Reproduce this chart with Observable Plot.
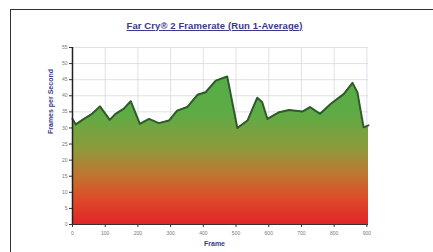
<!DOCTYPE html>
<html>
<head>
<meta charset="utf-8">
<script src="https://cdn.jsdelivr.net/npm/d3@7"></script>
<script src="https://cdn.jsdelivr.net/npm/@observablehq/plot@0.6"></script>
<style>
  html, body { margin: 0; padding: 0; background: #fff; }
  #wrap { position: relative; width: 433px; height: 252px; overflow: hidden; font-family: "Liberation Sans", Arial, sans-serif; }
  #frame { position: absolute; left: 10px; top: 9px; width: 440px; height: 260px; border: 1px solid #333; box-sizing: border-box; }
  #title { position: absolute; left: 0; width: 429px; top: 20px; text-align: center; font-size: 9.5px; font-weight: bold; color: #3a3a8c; text-decoration: underline; letter-spacing: 0.1px; }
  #chart { position: absolute; left: 0; top: 0; }
</style>
</head>
<body>
<div id="wrap">
  <div id="frame"></div>
  <div id="chart"></div>
  <div id="title">Far Cry® 2 Framerate (Run 1-Average)</div>
</div>
<script>
const frames = [0, 10, 35, 60, 84, 114, 132, 157, 178, 206, 234, 264, 295, 320, 351, 382, 407, 438, 473, 504, 535, 565, 580, 596, 632, 662, 703, 726, 757, 790, 830, 856, 871, 890, 905];
const fps = [32.8, 31.1, 32.8, 34.4, 36.7, 32.5, 34.4, 36.0, 38.3, 31.3, 32.8, 31.5, 32.3, 35.4, 36.5, 40.3, 41.1, 44.7, 46.0, 30.0, 32.3, 39.4, 38.0, 32.8, 34.9, 35.6, 35.1, 36.5, 34.4, 37.5, 40.6, 44.0, 41.1, 30.2, 30.8];
const xTicks = [0, 100, 200, 300, 400, 500, 600, 700, 800, 900];
const yTicks = [0, 5, 10, 15, 20, 25, 30, 35, 40, 45, 50, 55];

const data = frames.map((f, i) => ({frame: f, fps: fps[i]}));

const gradient = () => {
  const ns = "http://www.w3.org/2000/svg";
  const defs = document.createElementNS(ns, "defs");
  const g = document.createElementNS(ns, "linearGradient");
  g.setAttribute("id", "fpsgrad");
  g.setAttribute("gradientUnits", "userSpaceOnUse");
  g.setAttribute("x1", 0); g.setAttribute("x2", 0);
  g.setAttribute("y1", 47); g.setAttribute("y2", 224);
  [[0, "#4caf48"], [0.38, "#5fab45"], [0.57, "#8c9b3b"], [0.72, "#bf7631"], [0.86, "#df4a28"], [1, "#e0252a"]].forEach(([o, c]) => {
    const s = document.createElementNS(ns, "stop");
    s.setAttribute("offset", o);
    s.setAttribute("stop-color", c);
    g.appendChild(s);
  });
  defs.appendChild(g);
  return defs;
};

const chart = Plot.plot({
  width: 433,
  height: 252,
  marginLeft: 72,
  marginRight: 65,
  marginTop: 47,
  marginBottom: 28,
  style: {fontFamily: "Liberation Sans, Arial, sans-serif", background: "transparent"},
  x: {domain: [0, 905], ticks: xTicks, label: null},
  y: {domain: [0, 55], ticks: yTicks, label: null},
  marks: [
    gradient,
    Plot.gridX(xTicks, {stroke: "#d8d8e0", strokeOpacity: 1, strokeWidth: 0.8}),
    Plot.gridY(yTicks, {stroke: "#d8d8e0", strokeOpacity: 1, strokeWidth: 0.8}),
    Plot.areaY(data, {x: "frame", y: "fps", fill: "url(#fpsgrad)"}),
    Plot.lineY(data, {x: "frame", y: "fps", stroke: "#2f5a2c", strokeWidth: 2}),
    Plot.axisX(xTicks, {tickSize: 3, tickPadding: 4, fontSize: 5, fill: "#777", stroke: "#333"}),
    Plot.axisY(yTicks, {tickSize: 3, tickPadding: 2, fontSize: 5, fill: "#777", stroke: "#333"}),
    Plot.ruleX([0], {y1: 0, y2: 55, stroke: "#222", strokeWidth: 1.5}),
    Plot.ruleY([0], {stroke: "#333", strokeWidth: 1.2}),
    Plot.text(["Frames per Second"], {frameAnchor: "left", dx: -22, dy: -2, rotate: -90, fontSize: 7, fontWeight: "bold", fill: "#3a3a8c", textDecoration: "underline"}),
    Plot.text(["Frame"], {frameAnchor: "bottom", dy: 21, dx: -6, fontSize: 7, fontWeight: "bold", fill: "#3a3a8c", textDecoration: "underline"})
  ]
});
document.getElementById("chart").appendChild(chart);
</script>
</body>
</html>
